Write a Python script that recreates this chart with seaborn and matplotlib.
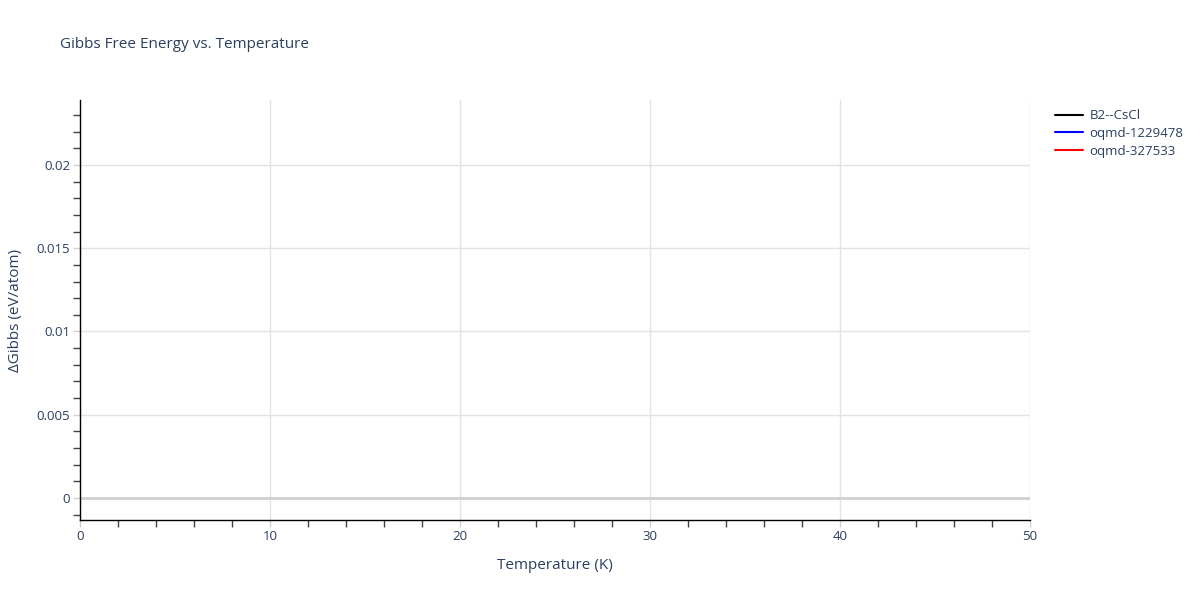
import numpy as np
import pandas as pd
import seaborn as sns
import matplotlib.pyplot as plt
from matplotlib.ticker import MultipleLocator

# series names and colours shown in the legend; no points are visible in the plot area
series_names = ["B2--CsCl", "oqmd-1229478", "oqmd-327533"]
series_colors = ["black", "blue", "red"]
temperature = {name: [] for name in series_names}
delta_gibbs = {name: [] for name in series_names}

x_ticks = [0, 10, 20, 30, 40, 50]
y_ticks = [0, 0.005, 0.01, 0.015, 0.02]
y_tick_labels = ["0", "0.005", "0.01", "0.015", "0.02"]

sns.set_theme(style="white")
plt.rcParams["font.family"] = ["Open Sans", "DejaVu Sans"]
text_color = "#2a3f5f"

fig = plt.figure(figsize=(12, 6), dpi=100)
ax = fig.add_axes([80 / 1200, 80 / 600, 950 / 1200, 420 / 600])

for name, color in zip(series_names, series_colors):
    df = pd.DataFrame({"T": temperature[name], "G": delta_gibbs[name]}, dtype=float)
    if len(df):
        sns.lineplot(data=df, x="T", y="G", ax=ax, color=color, lw=1.5, label=name)
    else:
        ax.plot(df["T"], df["G"], color=color, lw=1.5, label=name)

ax.set_xlim(0, 50)
ax.set_ylim(-0.00132, 0.0239)
ax.set_xticks(x_ticks)
ax.set_yticks(y_ticks)
ax.set_yticklabels(y_tick_labels)
ax.xaxis.set_minor_locator(MultipleLocator(2))
ax.yaxis.set_minor_locator(MultipleLocator(0.001))

ax.grid(True, which="major", color="#e3e3e3", lw=1)
ax.axhline(0, color="#d0d0d0", lw=2, zorder=1)
ax.set_axisbelow(True)

for side in ["top", "right"]:
    ax.spines[side].set_visible(False)
for side in ["left", "bottom"]:
    ax.spines[side].set_color("black")
    ax.spines[side].set_linewidth(1)

ax.tick_params(which="major", length=5, width=1, color="#d0d0d0", labelcolor=text_color,
               labelsize=9.5, left=True, bottom=True, pad=2)
ax.tick_params(which="minor", length=5, width=1, color="#444444", left=True, bottom=True)

ax.set_xlabel("Temperature (K)", color=text_color, fontsize=11, labelpad=11)
ax.set_ylabel("ΔGibbs (eV/atom)", color=text_color, fontsize=11, labelpad=10)
fig.text(60 / 1200, 1 - 45 / 600, "Gibbs Free Energy vs. Temperature", color=text_color,
         fontsize=11, va="center", ha="left")

leg = ax.legend(loc="upper left", bbox_to_anchor=(1050 / 1200, 1 - 104 / 600),
                bbox_transform=fig.transFigure, frameon=False, fontsize=9.5,
                handlelength=2.1, handletextpad=0.5, labelspacing=0.35, borderaxespad=0)
for t in leg.get_texts():
    t.set_color(text_color)

fig.savefig("out.png", dpi=100)
